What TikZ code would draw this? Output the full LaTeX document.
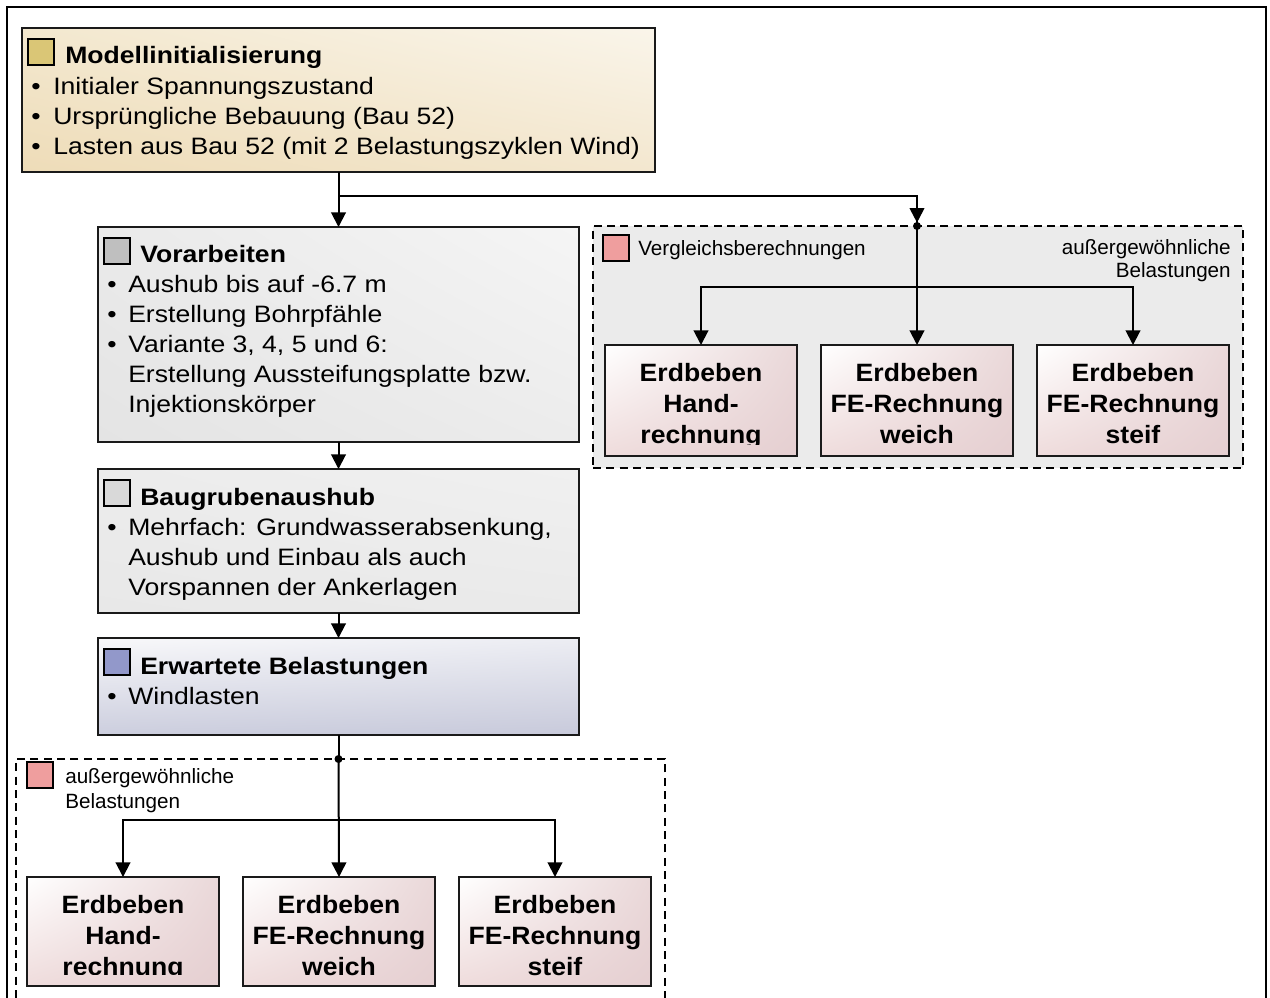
\documentclass[tikz,border=0pt]{standalone}
\usepackage{fontspec}
\setmainfont{Liberation Sans}
\newfontfamily\widefont[FakeStretch=1.12]{Liberation Sans}
\newfontfamily\redfont[FakeStretch=1.06]{Liberation Sans}
\usetikzlibrary{arrows.meta,fit,shadings}
\definecolor{lineblack}{HTML}{1A1A1A}
\definecolor{sqgold}{HTML}{DAC676}
\definecolor{sqgray}{HTML}{BFBFBF}
\definecolor{sqlight}{HTML}{D9D9D9}
\definecolor{sqblue}{HTML}{9298CA}
\definecolor{sqred}{HTML}{EF9E9E}
\definecolor{contgray}{HTML}{EBEBEB}
\definecolor{mUL}{HTML}{F3E8CF}
\definecolor{mLL}{HTML}{EEDCB8}
\definecolor{mUR}{HTML}{FAF5EA}
\definecolor{mLR}{HTML}{F3E7CF}
\definecolor{vUL}{HTML}{EAEAEA}
\definecolor{vLL}{HTML}{E4E4E4}
\definecolor{vUR}{HTML}{F5F5F5}
\definecolor{vLR}{HTML}{ECECEC}
\definecolor{bUL}{HTML}{ECECEC}
\definecolor{bLL}{HTML}{E8E8E8}
\definecolor{bUR}{HTML}{F0F0F0}
\definecolor{bLR}{HTML}{EAEAEA}
\definecolor{eUL}{HTML}{F8F8FA}
\definecolor{eLL}{HTML}{CCCEDE}
\definecolor{eUR}{HTML}{ECEDF3}
\definecolor{eLR}{HTML}{C8CADB}
\definecolor{rUL}{HTML}{FFFFFF}
\definecolor{rLL}{HTML}{EFDCDC}
\definecolor{rUR}{HTML}{EAD8D9}
\definecolor{rLR}{HTML}{E5CFD1}
\newcommand\fmain{\widefont\fontsize{17.8pt}{22.5pt}\selectfont}
\newcommand\fsmall{\fontsize{15.5pt}{17.3pt}\selectfont}
\newcommand\fred{\redfont\fontsize{18.8pt}{23.4pt}\selectfont\bfseries}
\begin{document}
\begin{tikzpicture}[x=0.75pt,y=-0.75pt,
  boxbase/.style={draw=lineblack,line width=1.5pt,inner sep=0pt,outer sep=0pt,rectangle},
  cont/.style={draw=black,line width=1.3pt,dash pattern=on 6pt off 4pt,inner sep=0pt,outer sep=0pt,rectangle},
  sq/.style={draw=black,line width=1.5pt,inner sep=0pt,outer sep=0pt,minimum size=19.5pt,anchor=north west},
  redbox/.style={boxbase,upper left=rUL,lower left=rLL,upper right=rUR,lower right=rLR},
  ttl/.style={font=\fmain\bfseries,anchor=base west,inner sep=0pt},
  txt/.style={font=\fmain,anchor=base west,inner sep=0pt},
  small/.style={font=\fsmall,inner sep=0pt},
  redtxt/.style={font=\fred,align=center,anchor=north,inner sep=0pt},
  arr/.style={line width=1.5pt,-{Triangle[length=11pt,width=11pt]}},
  conn/.style={line width=1.5pt},
  dot/.style={circle,fill=black,inner sep=0pt,minimum size=6pt}]
\useasboundingbox (0,0) rectangle (1270,997);
% outer frame
\draw[line width=2pt] (7,7) rectangle (1266,1020);

% main boxes
\node[boxbase,fit={(22,28)(655,172)},upper left=mUL,lower left=mLL,upper right=mUR,lower right=mLR] (m) {};
\node[boxbase,fit={(98,227)(579,442)},upper left=vUL,lower left=vLL,upper right=vUR,lower right=vLR] (v) {};
\node[boxbase,fit={(98,469)(579,613)},upper left=bUL,lower left=bLL,upper right=bUR,lower right=bLR] (b) {};
\node[boxbase,fit={(98,638)(579,735)},upper left=eUL,lower left=eLL,upper right=eUR,lower right=eLR] (e) {};

% squares
\node[sq,fill=sqgold] (sqm) at (28,39) {};
\node[sq,fill=sqgray] (sqv) at (104,238) {};
\node[sq,fill=sqlight] (sqb) at (104,480) {};
\node[sq,fill=sqblue] (sqe) at (104,649) {};

% box texts
\node[ttl] (tm) at (65,63) {Modellinitialisierung};
\node[txt] (m1b) at (31,94) {•};
\node[txt] (m1) at (53,94) {Initialer Spannungszustand};
\node[txt] (m2b) at (31,124) {•};
\node[txt] (m2) at (53,124) {Ursprüngliche Bebauung (Bau 52)};
\node[txt] (m3b) at (31,154) {•};
\node[txt] (m3) at (53,154) {Lasten aus Bau 52 (mit 2 Belastungszyklen Wind)};

\node[ttl] (tv) at (140,262) {Vorarbeiten};
\node[txt] (v1b) at (107,292) {•};
\node[txt] (v1) at (128,292) {Aushub bis auf -6.7 m};
\node[txt] (v2b) at (107,322) {•};
\node[txt] (v2) at (128,322) {Erstellung Bohrpfähle};
\node[txt] (v3b) at (107,352) {•};
\node[txt] (v3) at (128,352) {Variante 3, 4, 5 und 6:};
\node[txt] (v4) at (128,382) {Erstellung Aussteifungsplatte bzw.};
\node[txt] (v5) at (128,412) {Injektionskörper};

\node[ttl] (tb) at (140,505) {Baugrubenaushub};
\node[txt] (b1b) at (107,535) {•};
\node[txt] (b1t) at (128,535) {Mehrfach: Grundwasserabsenkung,};
\node[txt] (b2t) at (128,565) {Aushub und Einbau als auch};
\node[txt] (b3t) at (128,595) {Vorspannen der Ankerlagen};

\node[ttl] (te) at (140,674) {Erwartete Belastungen};
\node[txt] (e1b) at (107,704) {•};
\node[txt] (e1) at (128,704) {Windlasten};

% top-right container
\node[cont,fill=contgray,fit={(593,226)(1243,468)}] (c1) {};
\node[sq,fill=sqred] (sqc1) at (603,235) {};
\node[small,anchor=base west] (c1t) at (638,255) {Vergleichsberechnungen};
\node[small,anchor=base east] (c1a) at (1231,254) {außergewöhnliche};
\node[small,anchor=base east] (c1b) at (1231,277) {Belastungen};

\node[redbox,fit={(605,345)(797,456)}] (r1) {};
\node[redbox,fit={(821,345)(1013,456)}] (r2) {};
\node[redbox,fit={(1037,345)(1229,456)}] (r3) {};
\begin{scope}
\clip (r1.north west) rectangle ([yshift=9pt]r1.south east);
\node[redtxt] (r1t) at ([yshift=-13.5pt]r1.north) {Erdbeben\\Hand-\\rechnung};
\end{scope}
\node[redtxt] (r2t) at ([yshift=-13.5pt]r2.north) {Erdbeben\\FE-Rechnung\\weich};
\node[redtxt] (r3t) at ([yshift=-13.5pt]r3.north) {Erdbeben\\FE-Rechnung\\steif};

% bottom container
\node[cont,fit={(16,759)(665,1030)}] (c2) {};
\node[sq,fill=sqred] (sqc2) at (27,762) {};
\node[small,anchor=base west] (c2a) at (65,783) {außergewöhnliche};
\node[small,anchor=base west] (c2b) at (65,808) {Belastungen};

\node[redbox,fit={(27,877)(219,986)}] (q1) {};
\node[redbox,fit={(243,877)(435,986)}] (q2) {};
\node[redbox,fit={(459,877)(651,986)}] (q3) {};
\begin{scope}
\clip (q1.north west) rectangle ([yshift=9pt]q1.south east);
\node[redtxt] (q1t) at ([yshift=-13.5pt]q1.north) {Erdbeben\\Hand-\\rechnung};
\end{scope}
\node[redtxt] (q2t) at ([yshift=-13.5pt]q2.north) {Erdbeben\\FE-Rechnung\\weich};
\node[redtxt] (q3t) at ([yshift=-13.5pt]q3.north) {Erdbeben\\FE-Rechnung\\steif};

% connectors
\coordinate (j1) at (m.south |- 0,196);
\coordinate (j2) at (r2.north |- 0,287);
\coordinate (j3) at (q2.north |- 0,820);
\draw[arr] (m.south) -- (v.north);
\draw[arr] (v.south) -- (b.north);
\draw[arr] (b.south) -- (e.north);
\draw[arr] (j1) -| ([yshift=2.5pt]c1.north -| r2.north);
\draw[conn] (j1) -| (c1.north -| r2.north);
\draw[arr] (c1.north -| r2.north) -- (r2.north);
\node[dot] (d1) at (c1.north -| r2.north) {};
\draw[arr] (j2) -| (r1.north);
\draw[arr] (j2) -| (r3.north);

\draw[conn] (e.south) -- (c2.north -| e.south);
\node[dot] (d2) at (c2.north -| e.south) {};
\draw[arr] (c2.north -| e.south) -- (q2.north);
\draw[arr] (j3) -| (q1.north);
\draw[arr] (j3) -| (q3.north);
\end{tikzpicture}
\end{document}
